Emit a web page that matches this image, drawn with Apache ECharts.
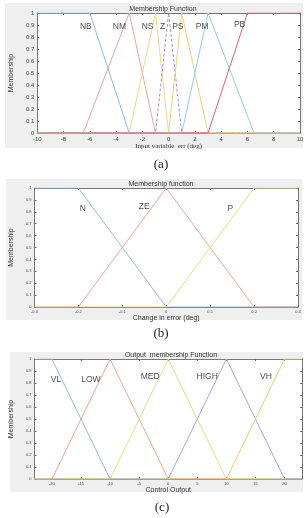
<!DOCTYPE html>
<html>
<head>
<meta charset="utf-8">
<script src="https://cdn.jsdelivr.net/npm/echarts@6/dist/echarts.min.js"></script>
<style>html,body{margin:0;padding:0;background:#fff;}#c{width:307px;height:518px;}</style>
</head>
<body>
<div id="c"></div>
<script>
// ---------- Panel (a): input "err" ----------
const errRange = [-10, 10];
const errTicks = [-10, -8, -6, -4, -2, 0, 2, 4, 6, 8, 10];
const errNames = ['NB', 'NM', 'NS', 'Z', 'PS', 'PM', 'PB'];
const errParams = [[-10, -10, -6, -3], [-6.5, -3, -1], [-3, -1, 0], [-1, 0, 1], [0, 1, 3], [1, 3, 6.5], [3, 6, 10, 10]];
const errLabelX = [-6.3, -3.75, -1.6, -0.45, 0.7, 2.55, 5.4];
const errLabelY = [0.89, 0.89, 0.89, 0.89, 0.89, 0.89, 0.9];
const errColors = ['#93bcdd', '#eea597', '#eed88c', '#a58ec6', '#ebd07e', '#92cde4', '#db6478'];

// ---------- Panel (b): change in error ----------
const derrRange = [-0.3, 0.3];
const derrTicks = [-0.3, -0.2, -0.1, 0, 0.1, 0.2, 0.3];
const derrNames = ['N', 'ZE', 'P'];
const derrParams = [[-0.3, -0.3, -0.2, 0], [-0.2, 0, 0.2], [0, 0.2, 0.3, 0.3]];
const derrLabelX = [-0.19, -0.05, 0.146];
const derrLabelY = [0.83, 0.84, 0.83];
const derrColors = ['#93bcdd', '#eea597', '#eed88c'];

// ---------- Panel (c): output ----------
const outRange = [-23, 23];
const outTicks = [-20, -15, -10, -5, 0, 5, 10, 15, 20];
const outNames = ['VL', 'LOW', 'MED', 'HIGH', 'VH'];
const outParams = [[-23, -23, -20, -10], [-20, -10, 0], [-10, 0, 10], [0, 10, 20], [10, 20, 23, 23]];
const outLabelX = [-19.3, -13.3, -3.1, 6.7, 16.8];
const outLabelY = [0.83, 0.83, 0.85, 0.85, 0.85];
const outColors = ['#93bcdd', '#eea597', '#eed88c', '#9ab0d0', '#efc77e'];

const memTicks = [0, 0.1, 0.2, 0.3, 0.4, 0.5, 0.6, 0.7, 0.8, 0.9, 1];

function mfValue(x, p) {
  let a, b, c, d;
  if (p.length === 3) { a = p[0]; b = p[1]; c = p[1]; d = p[2]; }
  else { a = p[0]; b = p[1]; c = p[2]; d = p[3]; }
  const left = (b === a) ? (x >= a ? 1 : 0) : (x - a) / (b - a);
  const right = (d === c) ? (x <= d ? 1 : 0) : (d - x) / (d - c);
  return Math.max(0, Math.min(1, left, right));
}
function mfPoints(p, range) {
  let xs = [range[0], range[1]].concat(p).filter(v => v >= range[0] && v <= range[1]);
  xs = Array.from(new Set(xs.map(v => +v.toFixed(6)))).sort((u, v) => u - v);
  return xs.map(x => [x, mfValue(x, p)]);
}

const grids = [
  { left: 19, top: 13, width: 281, height: 120 },
  { left: 16, top: 188, width: 282, height: 119 },
  { left: 21, top: 359, width: 281, height: 120 }
];
const panels = [
  { range: errRange, ticks: errTicks, names: errNames, params: errParams, lx: errLabelX, ly: errLabelY, colors: errColors,
    xname: 'Input variable  err (deg)', xfont: 'Liberation Serif', xnameGap: 7, tickFont: 6, dashed: 3 },
  { range: derrRange, ticks: derrTicks, names: derrNames, params: derrParams, lx: derrLabelX, ly: derrLabelY, colors: derrColors,
    xname: 'Change in error (deg)', xfont: 'Liberation Sans', xnameGap: 6, tickFont: 4, dashed: -1 },
  { range: outRange, ticks: outTicks, names: outNames, params: outParams, lx: outLabelX, ly: outLabelY, colors: outColors,
    xname: 'Control Output', xfont: 'Liberation Sans', xnameGap: 5, tickFont: 4, dashed: -1 }
];

const xAxes = [], yAxes = [], series = [];
panels.forEach((pn, i) => {
  const tickStyle = { show: true, inside: true, length: 2, lineStyle: { color: '#666', width: 1 }, customValues: pn.ticks };
  xAxes.push({
    type: 'value', gridIndex: i, position: 'bottom', min: pn.range[0], max: pn.range[1],
    axisLine: { show: true, onZero: false, lineStyle: { color: '#777', width: 1 } },
    axisTick: tickStyle,
    axisLabel: { customValues: pn.ticks, fontSize: pn.tickFont, color: '#444', margin: 3, fontFamily: 'Liberation Sans',
      formatter: v => String(+v.toFixed(2)) },
    splitLine: { show: false },
    name: pn.xname, nameLocation: 'middle', nameGap: pn.xnameGap,
    nameTextStyle: { fontSize: 7, color: '#333', fontFamily: pn.xfont }
  });
  xAxes.push({
    type: 'value', gridIndex: i, position: 'top', min: pn.range[0], max: pn.range[1],
    axisLine: { show: true, onZero: false, lineStyle: { color: '#777', width: 1 } },
    axisTick: tickStyle, axisLabel: { show: false }, splitLine: { show: false }
  });
  const yTick = { show: true, inside: true, length: 2, lineStyle: { color: '#666', width: 1 }, customValues: memTicks };
  yAxes.push({
    type: 'value', gridIndex: i, position: 'left', min: 0, max: 1,
    axisLine: { show: true, onZero: false, lineStyle: { color: '#777', width: 1 } },
    axisTick: yTick,
    axisLabel: { customValues: memTicks, fontSize: pn.tickFont, color: '#444', margin: 3, fontFamily: 'Liberation Sans',
      formatter: v => String(+v.toFixed(1)) },
    splitLine: { show: false },
    name: 'Membership', nameLocation: 'middle', nameGap: i === 2 ? 6 : 9, nameRotate: 90,
    nameTextStyle: { fontSize: 7, color: '#333', fontFamily: 'Liberation Sans' }
  });
  yAxes.push({
    type: 'value', gridIndex: i, position: 'right', min: 0, max: 1,
    axisLine: { show: true, onZero: false, lineStyle: { color: '#777', width: 1 } },
    axisTick: yTick, axisLabel: { show: false }, splitLine: { show: false }
  });
  pn.names.forEach((nm, k) => {
    series.push({
      type: 'line', name: nm, xAxisIndex: 2 * i, yAxisIndex: 2 * i,
      data: mfPoints(pn.params[k], pn.range), symbol: 'none', silent: true, z: 3,
      lineStyle: { color: pn.colors[k], width: 1, type: (k === pn.dashed) ? [3, 2] : 'solid' }
    });
  });
  series.push({
    type: 'scatter', xAxisIndex: 2 * i, yAxisIndex: 2 * i, symbolSize: 0, silent: true, z: 5,
    data: pn.names.map((nm, k) => ({ value: [pn.lx[k], pn.ly[k]], name: nm })),
    label: { show: true, position: 'inside', formatter: p => p.name, fontSize: 8.5, color: '#222',
      fontFamily: 'Liberation Sans' }
  });
});

const chart = echarts.init(document.getElementById('c'), null, { renderer: 'canvas' });
chart.setOption({
  animation: false,
  backgroundColor: '#fff',
  grid: grids.map(g => Object.assign({ show: true, backgroundColor: '#fff', borderWidth: 0 }, g)),
  xAxis: xAxes,
  yAxis: yAxes,
  series: series,
  graphic: [
    { type: 'rect', z: -100, shape: { x: 5, y: 3, width: 298, height: 145 }, style: { fill: '#efefef' } },
    { type: 'rect', z: -100, shape: { x: 6, y: 179, width: 296, height: 141 }, style: { fill: '#efefef' } },
    { type: 'rect', z: -100, shape: { x: 10, y: 352, width: 293, height: 140 }, style: { fill: '#efefef' } },
    { type: 'text', z: 10, x: 163, y: 9, style: { text: 'Membership Function', fontSize: 7, fill: '#333', align: 'center', verticalAlign: 'middle', fontFamily: 'Liberation Sans' } },
    { type: 'text', z: 10, x: 161, y: 184, style: { text: 'Membership function', fontSize: 7, fill: '#333', align: 'center', verticalAlign: 'middle', fontFamily: 'Liberation Sans' } },
    { type: 'text', z: 10, x: 171, y: 355, style: { text: 'Output  membership Function', fontSize: 7, fill: '#333', align: 'center', verticalAlign: 'middle', fontFamily: 'Liberation Sans' } },
    { type: 'text', x: 161, y: 165, style: { text: '(a)', fontSize: 13, fill: '#222', align: 'center', verticalAlign: 'middle', fontFamily: 'Liberation Serif' } },
    { type: 'text', x: 161, y: 334, style: { text: '(b)', fontSize: 13, fill: '#222', align: 'center', verticalAlign: 'middle', fontFamily: 'Liberation Serif' } },
    { type: 'text', x: 162, y: 508, style: { text: '(c)', fontSize: 13, fill: '#222', align: 'center', verticalAlign: 'middle', fontFamily: 'Liberation Serif' } }
  ]
});
</script>
</body>
</html>
